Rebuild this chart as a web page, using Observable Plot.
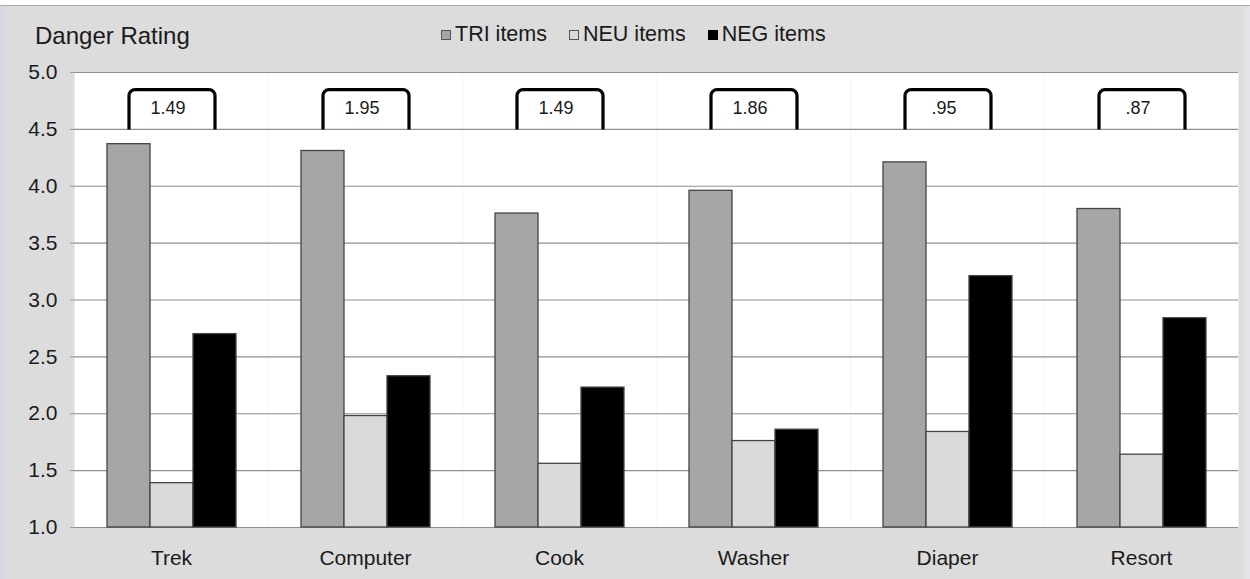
<!DOCTYPE html>
<html>
<head>
<meta charset="utf-8">
<script src="https://cdn.jsdelivr.net/npm/d3@7"></script>
<script src="https://cdn.jsdelivr.net/npm/@observablehq/plot@0.6"></script>
<style>
  html, body { margin: 0; padding: 0; background: #ffffff; }
  #wrap {
    position: relative; width: 1250px; height: 573px; margin-top: 5px;
    border-top: 1px solid #a8a8a8;
    background: linear-gradient(to right, #d6d6e6 0px, #dcdcdc 10px, #dcdcdc 1240px, #e6e6ea 1250px);
    font-family: "Liberation Sans", Arial, Helvetica, sans-serif; color: #1a1a1a;
    overflow: hidden;
  }
  #header { position: relative; height: 54px; }
  #title { position: absolute; left: 35px; top: 16px; font-size: 24px; }
  #legend { position: absolute; left: 441px; top: 16px; display: flex; gap: 22px; font-size: 21.5px; }
  .item { display: flex; align-items: center; }
  .sw { width: 8px; height: 8px; border: 1px solid #555; margin-right: 4px; }
  svg { display: block; }
</style>
</head>
<body>
<div id="wrap">
  <div id="header"><div id="title">Danger Rating</div><div id="legend"></div></div>
  <div id="chart"></div>
</div>
<script>
const categories = ["Trek", "Computer", "Cook", "Washer", "Diaper", "Resort"];
const series = ["TRI items", "NEU items", "NEG items"];
const triValues = [4.37, 4.31, 3.76, 3.96, 4.21, 3.80];
const neuValues = [1.39, 1.98, 1.56, 1.76, 1.84, 1.64];
const negValues = [2.70, 2.33, 2.23, 1.86, 3.21, 2.84];
const diffLabels = ["1.49", "1.95", "1.49", "1.86", ".95", ".87"];
const yTicks = [1.0, 1.5, 2.0, 2.5, 3.0, 3.5, 4.0, 4.5, 5.0];
const colors = ["#a6a6a6", "#d9d9d9", "#000000"];

const bracketBase = 4.5, bracketTop = 4.85, bracketText = 4.69;

const rows = [];
categories.forEach((c, i) => {
  rows.push({cat: c, series: series[0], value: triValues[i]});
  rows.push({cat: c, series: series[1], value: neuValues[i]});
  rows.push({cat: c, series: series[2], value: negValues[i]});
});
const bracketPts = categories.flatMap(c => [
  {cat: c, s: series[0], y: bracketBase},
  {cat: c, s: series[0], y: bracketTop},
  {cat: c, s: series[2], y: bracketTop},
  {cat: c, s: series[2], y: bracketBase}
]);
const bracketLabels = categories.map((c, i) => ({cat: c, s: series[1], label: diffLabels[i]}));

// custom curve with rounded corners
function roundedCorners(context) {
  let pts = [];
  return {
    areaStart() {}, areaEnd() {},
    lineStart() { pts = []; },
    point(x, y) { pts.push([+x, +y]); },
    lineEnd() {
      if (!pts.length) return;
      context.moveTo(pts[0][0], pts[0][1]);
      for (let i = 1; i < pts.length - 1; i++) {
        context.arcTo(pts[i][0], pts[i][1], pts[i + 1][0], pts[i + 1][1], 6);
      }
      const l = pts[pts.length - 1];
      context.lineTo(l[0], l[1]);
    }
  };
}

// legend
const legend = document.getElementById("legend");
series.forEach((s, i) => {
  const it = document.createElement("div"); it.className = "item";
  const sw = document.createElement("div"); sw.className = "sw"; sw.style.background = colors[i];
  if (i === 2) sw.style.borderColor = "#000";
  const t = document.createElement("span"); t.textContent = s;
  it.appendChild(sw); it.appendChild(t); legend.appendChild(it);
});

const chart = Plot.plot({
  width: 1250,
  height: 519,
  marginLeft: 72,
  marginRight: 10,
  marginTop: 12,
  marginBottom: 52,
  style: {background: "transparent", fontFamily: "Liberation Sans, Arial, sans-serif", fontSize: "21px", color: "#1a1a1a"},
  fx: {domain: categories, padding: 0, label: null},
  x: {domain: series, paddingInner: 0, paddingOuter: 0.75, axis: null},
  y: {domain: [1, 5], label: null},
  color: {domain: series, range: colors},
  marks: [
    Plot.frame({fill: "white", stroke: "none"}),
    Plot.gridY(yTicks, {stroke: "#8f8f8f", strokeOpacity: 1, strokeWidth: 1.2}),
    Plot.axisY(yTicks, {tickFormat: d => d.toFixed(1), tickSize: 4, tickPadding: 13, fontSize: 21, stroke: "#999", fill: "#1a1a1a", label: null}),
    Plot.axisFx({anchor: "bottom", tickSize: 0, tickPadding: 23, fontSize: 21, label: null}),
    Plot.barY(rows, {fx: "cat", x: "series", y1: 1, y2: "value", fill: "series", stroke: "#444", strokeWidth: 1.3}),
    Plot.line(bracketPts, {fx: "cat", x: "s", y: "y", z: "cat", dx: 0, stroke: "#000", strokeWidth: 3.2, strokeLinejoin: "round", strokeLinecap: "butt", curve: roundedCorners}),
    Plot.text(bracketLabels, {fx: "cat", x: "s", y: bracketText, text: "label", dx: -4, fontSize: 18, fill: "#1a1a1a"})
  ]
});
document.getElementById("chart").appendChild(chart);
</script>
</body>
</html>
